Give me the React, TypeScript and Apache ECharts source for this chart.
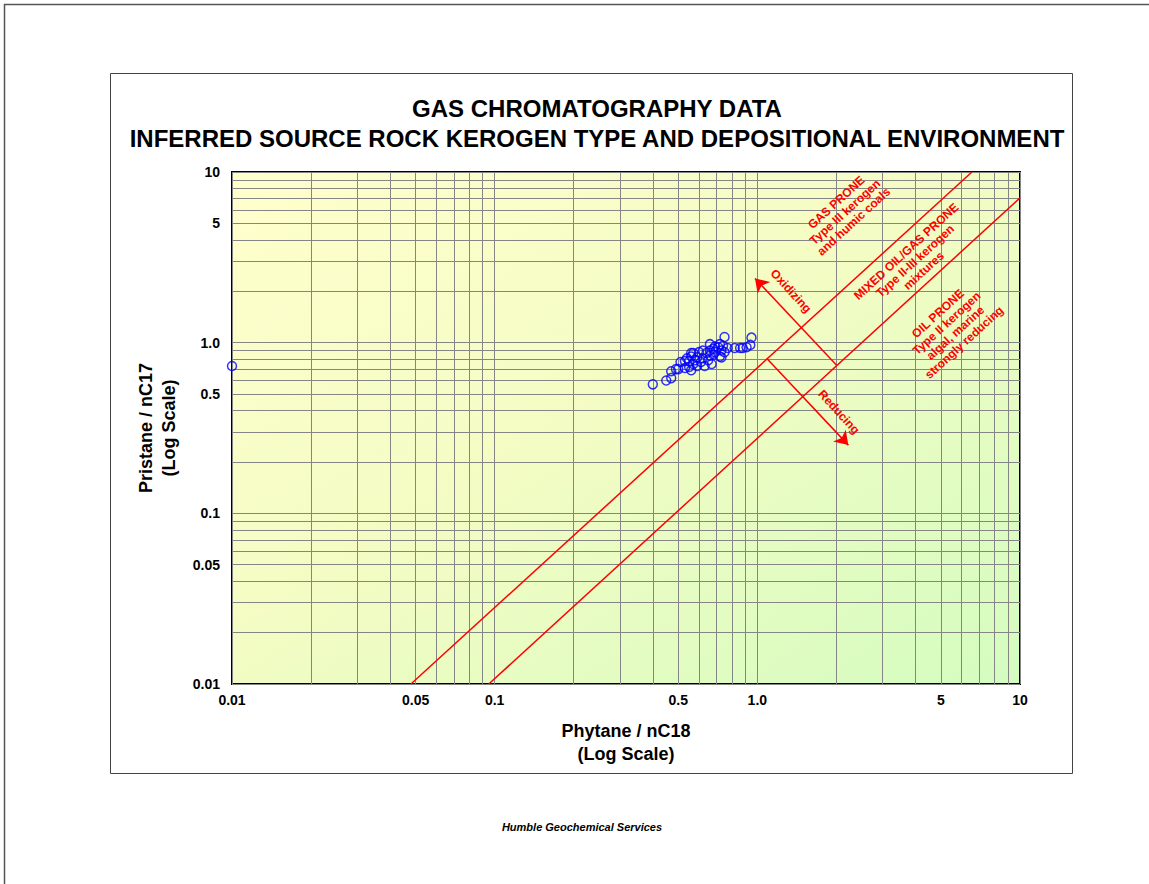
import React, { useEffect, useRef } from "react";
import * as echarts from "echarts";

// ---- data ----
const phytaneNC18: number[] = [
  0.01, 0.40, 0.45, 0.47, 0.47, 0.49, 0.50, 0.51, 0.53, 0.55, 0.55, 0.56, 0.56, 0.53, 0.56,
  0.57, 0.58, 0.59, 0.60, 0.61, 0.62, 0.62, 0.63, 0.64, 0.65, 0.66, 0.66, 0.67, 0.68, 0.68,
  0.69, 0.71, 0.72, 0.72, 0.73, 0.73, 0.75, 0.74, 0.75, 0.77, 0.82, 0.86, 0.88, 0.91, 0.94,
  0.95, 0.59, 0.57, 0.54, 0.66, 0.69,
];
const pristaneNC17: number[] = [
  0.73, 0.57, 0.60, 0.62, 0.68, 0.70, 0.70, 0.77, 0.78, 0.78, 0.72, 0.83, 0.87, 0.71, 0.69,
  0.87, 0.79, 0.82, 0.88, 0.77, 0.90, 0.81, 0.73, 0.87, 0.79, 0.90, 0.84, 0.75, 0.92, 0.85,
  0.88, 0.94, 0.83, 0.98, 0.90, 0.82, 1.08, 0.96, 0.88, 0.93, 0.93, 0.93, 0.93, 0.94, 0.97,
  1.07, 0.73, 0.75, 0.81, 0.98, 0.95,
];

// boundary lines (endpoints in data units)
const gasOilBoundary: [number, number][] = [[0.048, 0.01], [6.56, 10]];
const oilBoundary: [number, number][] = [[0.095, 0.01], [10, 7.05]];
// arrows [from, to]
const oxidizingArrow: [number, number][] = [[2.0, 0.74], [0.98, 2.38]];
const reducingArrow: [number, number][] = [[1.085, 0.81], [2.22, 0.251]];

const gridValues: number[] = [
  0.01, 0.02, 0.03, 0.04, 0.05, 0.06, 0.07, 0.08, 0.09,
  0.1, 0.2, 0.3, 0.4, 0.5, 0.6, 0.7, 0.8, 0.9,
  1, 2, 3, 4, 5, 6, 7, 8, 9, 10,
];
const tickValues: number[] = [0.01, 0.05, 0.1, 0.5, 1, 5, 10];
const tickLabels: string[] = ["0.01", "0.05", "0.1", "0.5", "1.0", "5", "10"];

const FONT = "'Liberation Sans', Arial, sans-serif";

function fmt(v: number): string {
  for (let i = 0; i < tickValues.length; i++) {
    if (Math.abs(Math.log10(v) - Math.log10(tickValues[i])) < 1e-6) return tickLabels[i];
  }
  return "";
}

export default function App() {
  const ref = useRef<HTMLDivElement>(null);
  useEffect(() => {
    if (!ref.current) return;
    const chart = echarts.init(ref.current, null, { renderer: "svg" });
    const points = phytaneNC18.map((x, i) => [x, pristaneNC17[i]]);
    const red = "#ff0000";
    const axisCommon = {
      type: "log" as const,
      logBase: 10,
      min: 0.01,
      max: 10,
      axisLine: { show: false },
      axisTick: { show: false, customValues: gridValues },
      splitLine: { show: true, lineStyle: { color: "#858585", width: 1 } },
      axisLabel: {
        customValues: tickValues,
        formatter: (v: number) => fmt(v),
        color: "#000",
        fontFamily: FONT,
        fontWeight: "bold" as const,
        fontSize: 14,
      },
    };
    const labelStyle = (text: string, x: number, y: number, rot: number) => ({
      type: "text",
      x,
      y,
      rotation: rot,
      z: 100,
      style: {
        text,
        fill: red,
        font: `bold 12px ${FONT}`,
        textAlign: "center",
        textVerticalAlign: "middle",
        lineHeight: 13,
      },
    });
    chart.setOption({
      animation: false,
      backgroundColor: "#ffffff",
      title: {
        text: "GAS CHROMATOGRAPHY DATA\nINFERRED SOURCE ROCK KEROGEN TYPE AND DEPOSITIONAL ENVIRONMENT",
        left: 592,
        top: 88,
        textAlign: "center",
        textStyle: {
          fontFamily: FONT,
          fontWeight: "bold",
          fontSize: 24,
          lineHeight: 30,
          color: "#000",
        },
      },
      grid: {
        left: 232,
        top: 172,
        right: 129,
        bottom: 200,
        show: true,
        borderColor: "#000",
        borderWidth: 2,
        backgroundColor: {
          type: "linear",
          x: 0,
          y: 0,
          x2: 1,
          y2: 1,
          colorStops: [
            { offset: 0, color: "#ffffcc" },
            { offset: 0.45, color: "#f4fcc4" },
            { offset: 1, color: "#d4fcc0" },
          ],
        },
      },
      xAxis: {
        ...axisCommon,
        axisLabel: { ...axisCommon.axisLabel, margin: 9 },
        name: "Phytane / nC18\n(Log Scale)",
        nameLocation: "middle",
        nameGap: 35,
        nameTextStyle: {
          fontFamily: FONT,
          fontWeight: "bold",
          fontSize: 18,
          lineHeight: 23,
          color: "#000",
        },
      },
      yAxis: {
        ...axisCommon,
        axisLabel: { ...axisCommon.axisLabel, margin: 12 },
        name: "Pristane / nC17\n(Log Scale)",
        nameLocation: "middle",
        nameRotate: 90,
        nameGap: 52,
        nameTextStyle: {
          fontFamily: FONT,
          fontWeight: "bold",
          fontSize: 18,
          lineHeight: 23,
          color: "#000",
        },
      },
      series: [
        {
          name: "Gas/Mixed boundary",
          type: "line",
          data: gasOilBoundary,
          symbol: "none",
          clip: true,
          lineStyle: { color: red, width: 1.5 },
          z: 5,
        },
        {
          name: "Mixed/Oil boundary",
          type: "line",
          data: oilBoundary,
          symbol: "none",
          clip: true,
          lineStyle: { color: red, width: 1.5 },
          z: 5,
        },
        {
          name: "Arrows",
          type: "line",
          data: [],
          z: 5,
          markLine: {
            silent: true,
            symbol: ["none", "arrow"],
            symbolSize: 13,
            label: { show: false },
            lineStyle: { color: red, width: 1.5, type: "solid" },
            data: [
              [{ coord: oxidizingArrow[0] }, { coord: oxidizingArrow[1] }],
              [{ coord: reducingArrow[0] }, { coord: reducingArrow[1] }],
            ],
          },
        },
        {
          name: "Samples",
          type: "scatter",
          data: points,
          symbol: "circle",
          symbolSize: 9,
          z: 10,
          itemStyle: { color: "rgba(0,0,0,0)", borderColor: "#0000ff", borderWidth: 1.5 },
        },
      ],
      graphic: [
        {
          type: "rect",
          shape: { x: 4.5, y: 4.5, width: 1160, height: 900 },
          style: { fill: "none", stroke: "#555", lineWidth: 1.5 },
          z: -10,
        },
        {
          type: "rect",
          shape: { x: 110.5, y: 73.5, width: 962, height: 700 },
          style: { fill: "none", stroke: "#444", lineWidth: 1 },
          z: -10,
        },
        labelStyle("GAS PRONE\nType III kerogen\nand humic coals", 845, 212, 0.74),
        labelStyle("MIXED OIL/GAS PRONE\nType II-III kerogen\nmixtures", 915, 261, 0.74),
        labelStyle("OIL PRONE\nType II kerogen\nalgal, marine\nstrongly reducing", 951, 328, 0.74),
        labelStyle("Oxidizing", 791, 291, -0.83),
        labelStyle("Reducing", 839, 412, -0.83),
        {
          type: "text",
          x: 582,
          y: 827,
          style: {
            text: "Humble Geochemical Services",
            fill: "#000",
            font: `italic bold 11px ${FONT}`,
            textAlign: "center",
            textVerticalAlign: "middle",
          },
        },
      ],
    });
    return () => chart.dispose();
  }, []);
  return (
    <div
      ref={ref}
      style={{ position: "fixed", left: 0, top: 0, width: 1149, height: 884 }}
    />
  );
}
